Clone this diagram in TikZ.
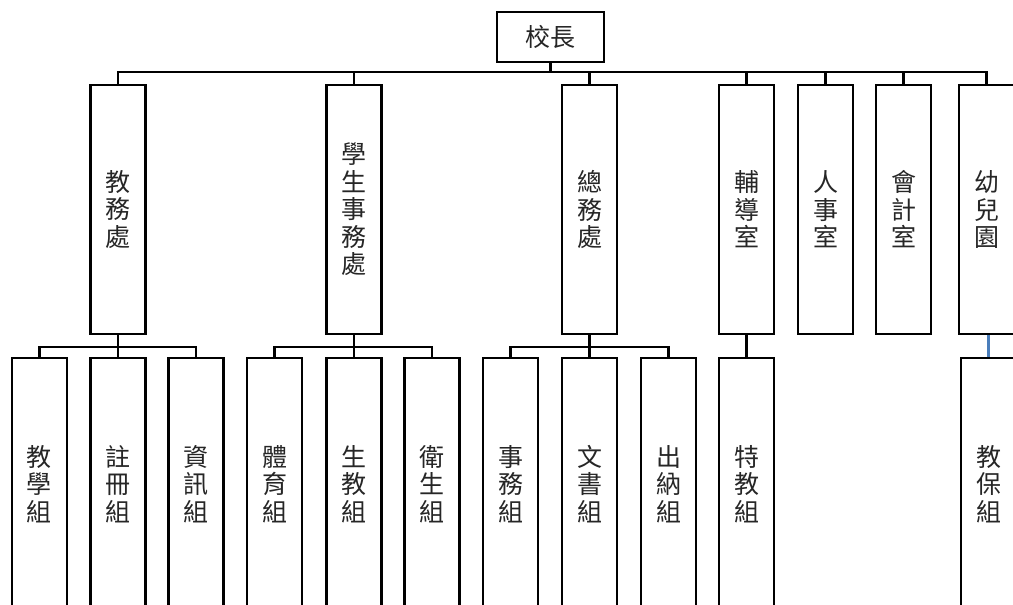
\documentclass[tikz,border=0pt]{standalone}
\usepackage{fontspec}
\newfontfamily\cjk{Noto Sans CJK TC}
\definecolor{linkblue}{RGB}{74,126,187}
\begin{document}
\begin{tikzpicture}[x=1pt,y=-1pt,
  box/.style={draw, line width=2.6pt, minimum width=55pt, inner sep=0pt, align=center,
              font=\cjk\fontsize{25}{27.5}\selectfont, text=black!85},
  topbox/.style={box, minimum height=249pt},
  subbox/.style={box, minimum height=252pt},
  wire/.style={line width=2.6pt},
  bluewire/.style={line width=3.5pt, draw=linkblue}]
\useasboundingbox (0,0) rectangle (1013,605);
\clip (0,0) rectangle (1013,605);
\fill[white] (0,0) rectangle (1013,605);

% head
\node[box, minimum width=107pt, minimum height=50pt] (head) at (550.5,37) {校長};

% top level
\node[topbox] (jw) at (118,209.5) {教\\務\\處};
\node[topbox] (xs) at (354,209.5) {學\\生\\事\\務\\處};
\node[topbox] (zw) at (589.5,209.5) {總\\務\\處};
\node[topbox] (fd) at (746.5,209.5) {輔\\導\\室};
\node[topbox] (rs) at (825.5,209.5) {人\\事\\室};
\node[topbox] (kj) at (903.5,209.5) {會\\計\\室};
\node[topbox] (ye) at (986.5,209.5) {幼\\兒\\園};

% second level
\node[subbox] (jx) at (39.5,484) {教\\學\\組};
\node[subbox] (zc) at (118,484) {註\\冊\\組};
\node[subbox] (zx) at (196,484) {資\\訊\\組};
\node[subbox] (ty) at (274.5,484) {體\\育\\組};
\node[subbox] (sj) at (354,484) {生\\教\\組};
\node[subbox] (ws) at (432,484) {衛\\生\\組};
\node[subbox] (sw) at (510.5,484) {事\\務\\組};
\node[subbox] (ws2) at (589.5,484) {文\\書\\組};
\node[subbox] (cn) at (668.5,484) {出\\納\\組};
\node[subbox] (tj) at (746.5,484) {特\\教\\組};
\node[subbox] (jb) at (988.5,484) {教\\保\\組};

\coordinate (bus) at (0,72);
\coordinate (sbus) at (0,347);

% main bus
\draw[wire] (head.south) -- (head.south |- bus);
\draw[wire] (jw.north) -- (jw.north |- bus) -- (ye.north |- bus) -- (ye.north);
\foreach \n in {xs,zw,fd,rs,kj}{
  \draw[wire] (\n.north) -- (\n.north |- bus);
}

% sub buses
\draw[wire] (jw.south) -- (zc.north);
\draw[wire] (jx.north) -- (jx.north |- sbus) -- (zx.north |- sbus) -- (zx.north);

\draw[wire] (xs.south) -- (sj.north);
\draw[wire] (ty.north) -- (ty.north |- sbus) -- (ws.north |- sbus) -- (ws.north);

\draw[wire] (zw.south) -- (ws2.north);
\draw[wire] (sw.north) -- (sw.north |- sbus) -- (cn.north |- sbus) -- (cn.north);

\draw[wire] (fd.south) -- (tj.north);
\draw[bluewire] (jb.north |- ye.south) -- (jb.north);
\end{tikzpicture}
\end{document}
